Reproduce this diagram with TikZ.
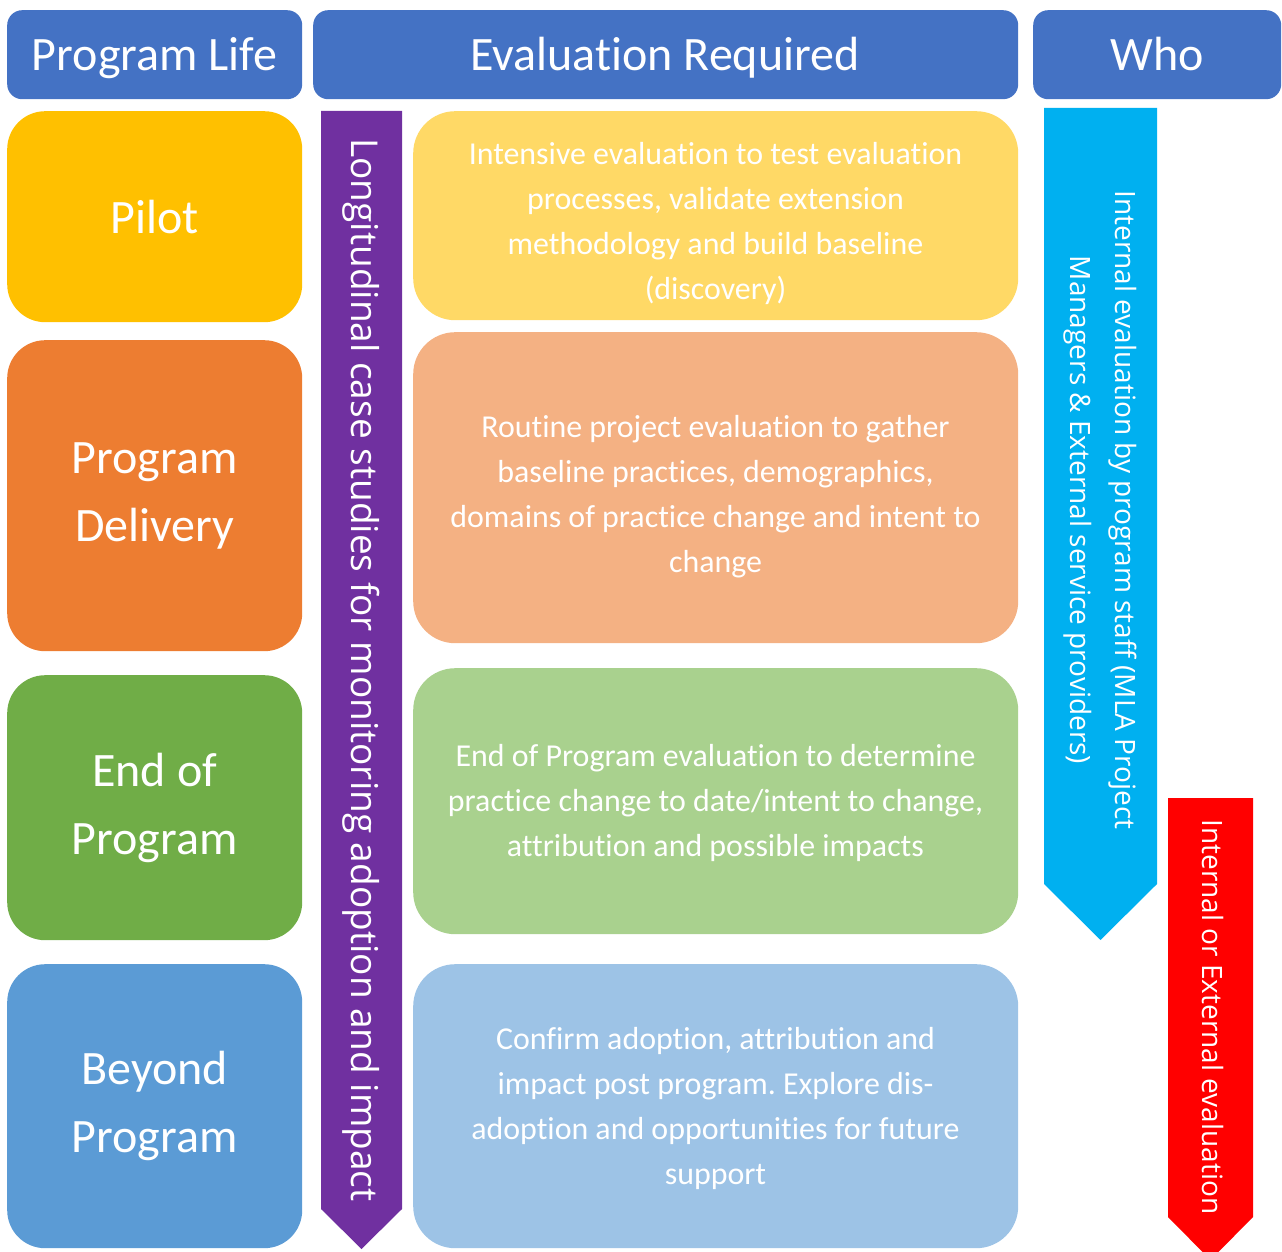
\documentclass[tikz,border=0pt]{standalone}
\usepackage{fontspec}
\setmainfont{Carlito}[Ligatures=NoCommon]
\newfontfamily\sidefont{Open Sans}
\frenchspacing
\definecolor{hdrblue}{HTML}{4472C4}
\definecolor{pilotc}{HTML}{FFC000}
\definecolor{deliveryc}{HTML}{ED7D31}
\definecolor{endc}{HTML}{70AD47}
\definecolor{beyondc}{HTML}{5B9BD5}
\definecolor{pilotl}{HTML}{FFD966}
\definecolor{deliveryl}{HTML}{F4B183}
\definecolor{endl}{HTML}{A9D18E}
\definecolor{beyondl}{HTML}{9DC3E6}
\definecolor{purplec}{HTML}{7030A0}
\definecolor{cyanc}{HTML}{00B0F0}
\definecolor{redc}{HTML}{FF0000}
\begin{document}
\begin{tikzpicture}[x=1pt,y=-1pt,
  hdrbox/.style={fill=hdrblue, rounded corners=15pt, anchor=north west,
    inner sep=0pt, minimum height=89pt},
  hdrtext/.style={anchor=base, text=white, inner sep=0pt,
    font=\fontsize{48}{56}\selectfont},
  stagebox/.style={rounded corners=38pt, anchor=north west, inner sep=0pt,
    minimum width=295pt, text=white, align=center,
    font=\fontsize{48}{68}\selectfont},
  evalbox/.style={rounded corners=42pt, anchor=north west, inner sep=0pt,
    minimum width=605pt},
  evaltext/.style={text=white, align=center, inner sep=0pt,
    font=\fontsize{31.9}{45}\selectfont},
  sidetext/.style={rotate=-90, anchor=base, text=white, inner sep=0pt,
    font=\sidefont\fontsize{28}{34}\selectfont},
]
\useasboundingbox (0,0) rectangle (1282,1252);

% column headers
\node[hdrbox, minimum width=295pt] (hlife) at (7,10) {};
\node[hdrbox, minimum width=705pt] (heval) at (313,10) {};
\node[hdrbox, minimum width=248pt] (hwho) at (1033,10) {};
\node[hdrtext] (tlife) at (154.5,71) {Program Life};
\node[hdrtext] (teval) at (665,71) {Evaluation Required};
\node[hdrtext] (twho) at (1157,71) {Who};

% program life stages
\node[stagebox, fill=pilotc, minimum height=211pt] (pilot) at (7,111) {Pilot};
\node[stagebox, fill=deliveryc, minimum height=311pt] (delivery) at (7,340) {Program\\Delivery};
\node[stagebox, fill=endc, minimum height=265pt] (endprog) at (7,675) {End of\\Program};
\node[stagebox, fill=beyondc, minimum height=284pt] (beyond) at (7,964) {Beyond\\Program};

% longitudinal arrow
\fill[purplec] (321,111) -- (402,111) -- (402,1209) -- (361.5,1249)
  -- (321,1209) -- cycle;
\node[sidetext, font=\sidefont\fontsize{37}{44}\selectfont] (longit) at (351,670)
  {Longitudinal case studies for monitoring adoption and impact};

% evaluation required at each stage
\node[evalbox, fill=pilotl, minimum height=209pt] (epilot) at (413,111) {};
\node[evalbox, fill=deliveryl, minimum height=311pt] (edelivery) at (413,332) {};
\node[evalbox, fill=endl, minimum height=266pt] (eend) at (413,668) {};
\node[evalbox, fill=beyondl, minimum height=284pt] (ebeyond) at (413,964) {};

\node[evaltext] (tpilot) at (715.5,223) {Intensive evaluation to test evaluation\\
  processes, validate extension\\methodology and build baseline\\(discovery)};
\node[evaltext] (tdelivery) at (715.5,497) {Routine project evaluation to gather\\
  baseline practices, demographics,\\domains of practice change and intent to\\change};
\node[evaltext] (tend) at (715.5,803) {End of Program evaluation to determine\\
  practice change to date/intent to change,\\attribution and possible impacts};
\node[evaltext] (tbeyond) at (715.5,1108) {Confirm adoption, attribution and\\
  impact post program. Explore dis-\\adoption and opportunities for future\\support};

% who carries out the evaluation
\fill[cyanc] (1044,108) -- (1157,108) -- (1157,884) -- (1100.5,940)
  -- (1044,884) -- cycle;
\node[sidetext] (internA) at (1115,510)
  {Internal evaluation by program staff (MLA Project};
\node[sidetext] (internB) at (1070,510)
  {Managers \& External service providers)};

\fill[redc] (1168,798) -- (1253,798) -- (1253,1217) -- (1210.5,1260)
  -- (1168,1217) -- cycle;
\node[sidetext] (either) at (1202,1017) {Internal or External evaluation};
\end{tikzpicture}
\end{document}
